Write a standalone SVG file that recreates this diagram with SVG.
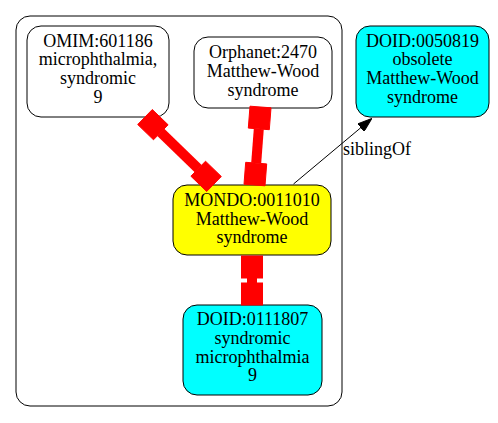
<svg xmlns="http://www.w3.org/2000/svg" width="498" height="423" viewBox="0 0 498 423">
<style>
text{font-family:"Liberation Serif","Times New Roman",serif;font-size:18px;fill:#000;text-anchor:middle}
.node{stroke:#000;stroke-width:1}
.red{fill:#ff0000;stroke:#ff0000;stroke-width:1}
.rl{stroke:#ff0000;stroke-width:10;fill:none}
</style>
<defs>
<marker id="arr" viewBox="0 0 15 10" refX="0" refY="5" markerWidth="15" markerHeight="10" markerUnits="userSpaceOnUse" orient="auto">
<path d="M0,0 L14.5,5 L0,10 Z" fill="#000" stroke="#000" stroke-width="1"/>
</marker>
</defs>
<rect width="498" height="423" fill="#fff"/>
<g id="cluster">
<rect x="16" y="16" width="326" height="390" rx="14" fill="none" stroke="#000" stroke-width="1"/>
</g>
<g id="omim">
<rect class="node" x="27" y="26" width="142" height="91" rx="14" fill="#fff"/>
<text x="98" y="46.7">OMIM:601186</text>
<text x="98" y="65.3">microphthalmia,</text>
<text x="98" y="84">syndromic</text>
<text x="98" y="102.7">9</text>
</g>
<g id="orphanet">
<rect class="node" x="194" y="37" width="138" height="71" rx="14" fill="#fff"/>
<text x="263" y="58.3">Orphanet:2470</text>
<text x="263" y="77">Matthew-Wood</text>
<text x="263" y="95.7">syndrome</text>
</g>
<g id="doid0050819">
<rect class="node" x="356" y="26" width="133" height="91" rx="14" fill="#00ffff"/>
<text x="422.5" y="46.7">DOID:0050819</text>
<text x="422.5" y="65.3">obsolete</text>
<text x="422.5" y="84">Matthew-Wood</text>
<text x="422.5" y="102.7">syndrome</text>
</g>
<g id="mondo">
<rect class="node" x="173" y="185" width="158" height="70" rx="14" fill="#ffff00"/>
<text x="252" y="205.8">MONDO:0011010</text>
<text x="252" y="224.5">Matthew-Wood</text>
<text x="252" y="243.2">syndrome</text>
</g>
<g id="doid0111807">
<rect class="node" x="183" y="305" width="139" height="90" rx="14" fill="#00ffff"/>
<text x="252.5" y="325.2">DOID:0111807</text>
<text x="252.5" y="343.8">syndromic</text>
<text x="252.5" y="362.5">microphthalmia</text>
<text x="252.5" y="381.2">9</text>
</g>
<g id="edges">
<g id="e-omim-mondo">
<line class="rl" x1="160.8" y1="132.3" x2="198.2" y2="168.7"/>
<polygon class="red" points="137.7,124.5 152.3,109.5 168.1,124.8 153.5,139.8"/>
<polygon class="red" points="190.9,176.2 205.5,161.2 221.3,176.5 206.7,191.5"/>
</g>
<g id="e-orphanet-mondo">
<line class="rl" x1="258.8" y1="128.9" x2="256.2" y2="163.1"/>
<polygon class="red" points="250,106.2 271,107.8 269.3,129.7 248.3,128.1"/>
<polygon class="red" points="245.7,162.3 266.7,163.9 265,185.8 244,184.2"/>
</g>
<g id="e-mondo-doid0111807">
<line class="rl" x1="252" y1="278" x2="252" y2="283"/>
<rect class="red" x="241.5" y="256" width="21" height="22"/>
<rect class="red" x="241.5" y="283" width="21" height="22"/>
</g>
<g id="e-mondo-doid0050819">
<line x1="293.5" y1="184" x2="360.7" y2="127.8" stroke="#000" stroke-width="1" marker-end="url(#arr)"/>
<text x="343" y="155" style="text-anchor:start">siblingOf</text>
</g>
</g>
</svg>
